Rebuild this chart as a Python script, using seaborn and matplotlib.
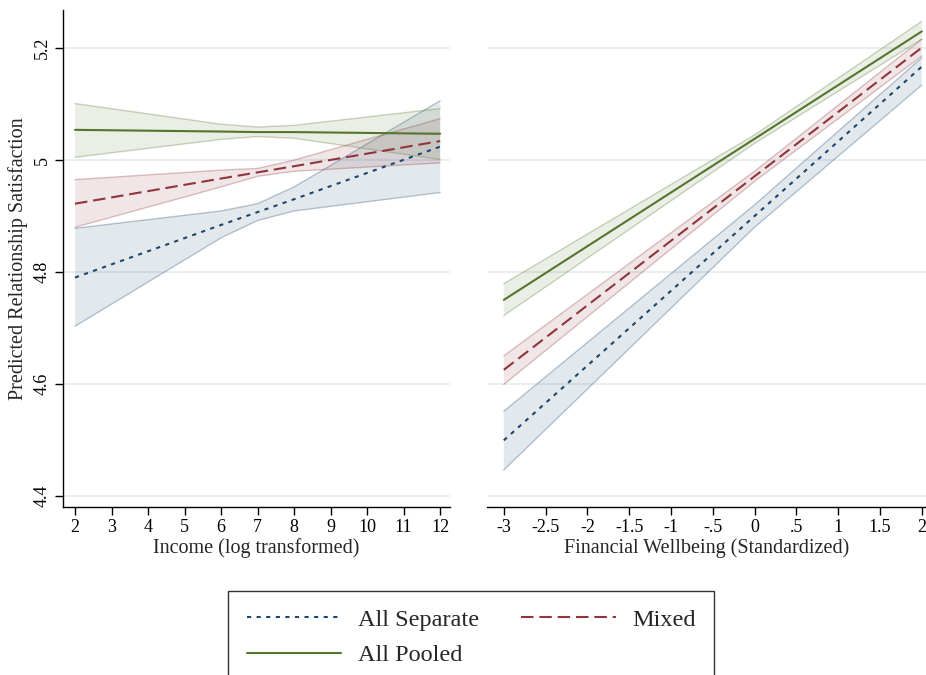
import seaborn as sns
import matplotlib.pyplot as plt
import pandas as pd
from matplotlib.lines import Line2D

# Predicted relationship satisfaction by pooling arrangement

# left panel: income (log transformed)
inc_x = [2, 6, 7, 8, 12]
inc_sep = [4.790, 4.884, 4.907, 4.930, 5.024]
inc_sep_lo = [4.703, 4.861, 4.892, 4.909, 4.942]
inc_sep_hi = [4.878, 4.909, 4.922, 4.952, 5.106]
inc_mix = [4.922, 4.967, 4.978, 4.989, 5.034]
inc_mix_lo = [4.880, 4.952, 4.971, 4.980, 4.995]
inc_mix_hi = [4.965, 4.982, 4.985, 5.000, 5.074]
inc_pool = [5.054, 5.051, 5.050, 5.050, 5.047]
inc_pool_lo = [5.005, 5.037, 5.042, 5.039, 5.001]
inc_pool_hi = [5.101, 5.064, 5.059, 5.062, 5.092]

# right panel: financial wellbeing (standardized)
fw_x = [-3, 0, 2]
fw_sep = [4.499, 4.900, 5.167]
fw_sep_lo = [4.446, 4.880, 5.134]
fw_sep_hi = [4.551, 4.920, 5.183]
fw_mix = [4.625, 4.971, 5.201]
fw_mix_lo = [4.599, 4.962, 5.186]
fw_mix_hi = [4.650, 4.980, 5.216]
fw_pool = [4.750, 5.038, 5.230]
fw_pool_lo = [4.722, 5.030, 5.216]
fw_pool_hi = [4.779, 5.045, 5.248]

inc_ticks = [2, 3, 4, 5, 6, 7, 8, 9, 10, 11, 12]
fw_ticks = [-3, -2.5, -2, -1.5, -1, -0.5, 0, 0.5, 1, 1.5, 2]
fw_ticklabels = ['-3', '-2.5', '-2', '-1.5', '-1', '-.5', '0', '.5', '1', '1.5', '2']
y_ticks = [4.4, 4.6, 4.8, 5.0, 5.2]
y_ticklabels = ['4.4', '4.6', '4.8', '5', '5.2']

navy = '#1a476f'
maroon = '#90353b'
forest = '#55752f'

sns.set_theme(style="white")
plt.rcParams['font.family'] = ['Liberation Serif', 'DejaVu Serif']

fig = plt.figure(figsize=(9.26, 6.75), dpi=100)
ax1 = fig.add_axes([0.068, 0.249, 0.418, 0.736])
ax2 = fig.add_axes([0.526, 0.249, 0.474, 0.736])

styles = {
    'All Separate': dict(color=navy, dashes=(2, 2.6)),
    'Mixed': dict(color=maroon, dashes=(6, 2.8)),
    'All Pooled': dict(color=forest, dashes=None),
}

def draw_panel(ax, x, series):
    for name, (mid, lo, hi) in series.items():
        st = styles[name]
        ax.fill_between(x, lo, hi, facecolor=st['color'], alpha=0.12,
                        edgecolor='none', zorder=2)
        ax.plot(x, lo, color=st['color'], alpha=0.3, lw=1.0, zorder=2)
        ax.plot(x, hi, color=st['color'], alpha=0.3, lw=1.0, zorder=2)
    for name, (mid, lo, hi) in series.items():
        st = styles[name]
        df = pd.DataFrame({'x': x, 'y': mid})
        sns.lineplot(data=df, x='x', y='y', ax=ax, color=st['color'],
                     lw=1.5, zorder=3)
        if st['dashes'] is not None:
            ax.lines[-1].set_dashes(st['dashes'])

draw_panel(ax1, inc_x, {
    'All Separate': (inc_sep, inc_sep_lo, inc_sep_hi),
    'Mixed': (inc_mix, inc_mix_lo, inc_mix_hi),
    'All Pooled': (inc_pool, inc_pool_lo, inc_pool_hi),
})
draw_panel(ax2, fw_x, {
    'All Separate': (fw_sep, fw_sep_lo, fw_sep_hi),
    'Mixed': (fw_mix, fw_mix_lo, fw_mix_hi),
    'All Pooled': (fw_pool, fw_pool_lo, fw_pool_hi),
})

for ax in (ax1, ax2):
    ax.set_ylim(4.38, 5.268)
    for yv in y_ticks:
        ax.axhline(yv, color='#e6eef1', lw=1.3, zorder=1)
    ax.spines['top'].set_visible(False)
    ax.spines['right'].set_visible(False)
    ax.spines['bottom'].set_color('black')
    ax.spines['bottom'].set_linewidth(1.0)
    ax.tick_params(axis='x', direction='out', length=6, width=1.0,
                   colors='black', labelsize=13, bottom=True, pad=3)

ax1.set_xlim(1.67, 12.27)
ax1.set_xticks(inc_ticks)
ax1.set_xticklabels([str(t) for t in inc_ticks])
ax1.set_yticks(y_ticks)
ax1.set_yticklabels(y_ticklabels, rotation=90, va='center')
ax1.spines['left'].set_color('black')
ax1.spines['left'].set_linewidth(1.0)
ax1.tick_params(axis='y', direction='out', length=6, width=1.0,
                colors='black', labelsize=13, left=True, pad=3)
ax1.set_xlabel('Income (log transformed)', fontsize=14.5, labelpad=1)
ax1.set_ylabel('Predicted Relationship Satisfaction', fontsize=14.5, labelpad=4)

ax2.set_xlim(-3.2, 2.05)
ax2.set_xticks(fw_ticks)
ax2.set_xticklabels(fw_ticklabels)
ax2.set_yticks([])
ax2.spines['left'].set_visible(False)
ax2.set_xlabel('Financial Wellbeing (Standardized)', fontsize=14.5, labelpad=1)
ax2.set_ylabel('')

handles = [
    Line2D([], [], color=navy, lw=1.5, dashes=(2, 2.6)),
    Line2D([], [], color=forest, lw=1.5),
    Line2D([], [], color=maroon, lw=1.5, dashes=(6, 2.8)),
]
labels = ['All Separate', 'All Pooled', 'Mixed']
leg = fig.legend(handles, labels, loc='upper center', bbox_to_anchor=(0.509, 0.143),
                 ncol=2, fontsize=17.5, frameon=True, fancybox=False,
                 edgecolor='black', handlelength=3.9, handletextpad=0.7,
                 columnspacing=1.7, labelspacing=0.55, borderpad=0.75)
leg.get_frame().set_linewidth(1.0)

fig.savefig('out.png', dpi=100)
